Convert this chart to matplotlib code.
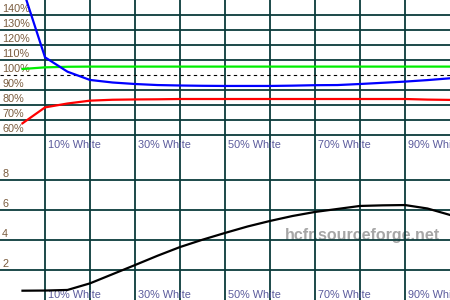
import matplotlib
matplotlib.use("Agg")
import matplotlib.pyplot as plt

# Data (x in % white)
levels = [5, 10, 15, 20, 25, 30, 35, 40, 45, 50, 55, 60, 65, 70, 75, 80, 85, 90, 95, 100]
red = [67.8, 78.4, 81.0, 82.9, 83.5, 83.7, 83.8, 84.0, 84.0, 84.0, 84.0, 84.0, 84.0,
       84.0, 84.0, 84.0, 84.0, 84.0, 83.6, 83.4]
green = [104.0, 105.1, 105.5, 105.6, 105.6, 105.6, 105.6, 105.6, 105.6, 105.6, 105.6,
         105.6, 105.6, 105.6, 105.6, 105.6, 105.6, 105.6, 105.6, 105.6]
blue = [158.0, 111.8, 102.2, 96.7, 95.0, 94.0, 93.3, 93.0, 92.8, 92.7, 92.7, 92.7,
        92.9, 93.2, 93.3, 94.0, 94.8, 95.6, 96.6, 97.8]
delta_e = [0.62, 0.63, 0.67, 1.11, 1.72, 2.33, 2.95, 3.53, 4.02, 4.47, 4.90, 5.27,
           5.60, 5.87, 6.07, 6.27, 6.31, 6.33, 6.10, 5.67]

x_ticks = [10, 30, 50, 70, 90]
x_tick_labels = ["10% White", "30% White", "50% White", "70% White", "90% White"]
top_ticks = [60, 70, 80, 90, 100, 110, 120, 130, 140]
top_tick_labels = ["60%", "70%", "80%", "90%", "100%", "110%", "120%", "130%", "140%"]
bot_ticks = [2, 4, 6, 8]
bot_tick_labels = ["2", "4", "6", "8"]

GRID = "#0b3b3b"
YLAB = "#7a5c3e"
XLAB = "#5a5a9c"
FONT = "Liberation Sans"

fig = plt.figure(figsize=(4.5, 3.0), dpi=100)
fig.patch.set_facecolor("white")

ax1 = fig.add_axes([0, 0.5, 1, 0.5])
ax2 = fig.add_axes([0, 0.0, 1, 0.5])

for ax in (ax1, ax2):
    ax.set_xlim(0, 100)
    ax.set_xticks([])
    ax.set_yticks([])
    for s in ax.spines.values():
        s.set_visible(False)
    ax.set_facecolor("none")
    for xv in range(10, 100, 10):
        ax.axvline(xv, color=GRID, lw=1.3, zorder=1)

# top panel
ax1.set_ylim(50, 150)
for v in top_ticks:
    if v == 100:
        ax1.axhline(v, color="black", lw=0.8, ls=(0, (3, 3)), zorder=1)
    else:
        ax1.axhline(v, color=GRID, lw=1.3, zorder=1)
for v, lab in zip(top_ticks, top_tick_labels):
    ax1.text(0.45, v + 1.7, lab, color=YLAB, fontsize=7.8, family=FONT,
             ha="left", va="baseline", zorder=3)
for xv, lab in zip(x_ticks, x_tick_labels):
    ax1.text(xv + 0.7, 51.3, lab, color=XLAB, fontsize=7.8, family=FONT,
             ha="left", va="baseline", zorder=3)
ax1.plot(levels, green, color="#00ee00", lw=1.6, zorder=4, clip_on=True)
ax1.plot(levels, red, color="#ff0000", lw=1.6, zorder=4)
ax1.plot(levels, blue, color="#0000ff", lw=1.6, zorder=4)

# bottom panel
ax2.set_ylim(0, 10)
ax2.text(63.3, 4.0, "hcfr.sourceforge.net", color="#a6a6a6", fontsize=11.5,
         family=FONT, fontweight="bold", ha="left", va="baseline", zorder=0)
for v in bot_ticks:
    ax2.axhline(v, color=GRID, lw=1.3, zorder=1)
for v, lab in zip(bot_ticks, bot_tick_labels):
    ax2.text(0.45, v + 0.2, lab, color=YLAB, fontsize=7.8, family=FONT,
             ha="left", va="baseline", zorder=3)
for xv, lab in zip(x_ticks, x_tick_labels):
    ax2.text(xv + 0.7, 0.13, lab, color=XLAB, fontsize=7.8, family=FONT,
             ha="left", va="baseline", zorder=3)
ax2.plot(levels, delta_e, color="black", lw=1.6, zorder=4)

fig.savefig("out.png", dpi=100, facecolor="white")
